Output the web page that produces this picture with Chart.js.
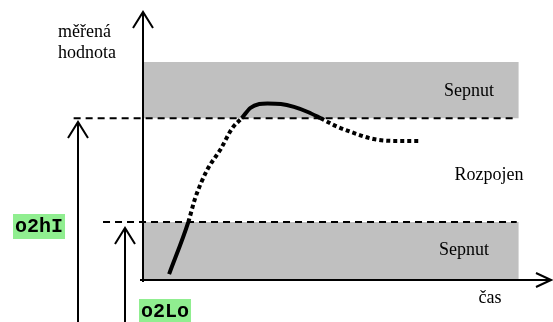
<!DOCTYPE html>
<html>
<head>
<meta charset="utf-8">
<script src="https://cdn.jsdelivr.net/npm/chart.js@4"></script>
<style>
  html, body { margin: 0; padding: 0; background: #fff; }
  #wrap { width: 553px; height: 322px; position: relative; }
</style>
</head>
<body>
<div id="wrap"><canvas id="chart"></canvas></div>
<script>
// hodnoty (čas i měřená hodnota v jednotkách 0..100)
const thresholdNames = ['o2hI', 'o2Lo'];
const thresholdValues = [60.4, 21.6];
const thresholdLineStart = [-17, -9.8];
const thresholdLineEnd = 91.6;

const bandNames = ['Sepnut', 'Rozpojen', 'Sepnut'];
const upperBandTop = 81.3;
const bandEnd = 92.1;

const curveTime  = [6.4, 11.1, 12.8, 15.7, 18.9, 21.9, 24.2, 26.3, 28.5, 30.5, 33.8, 37.0, 40.4, 43.5, 47.2, 51.6, 56.5, 62.0, 68.1];
const curveValue = [2.2, 21.6, 30.6, 41.0, 48.5, 56.7, 60.4, 64.2, 65.7, 65.9, 65.7, 64.6, 62.7, 60.4, 57.5, 54.9, 52.6, 51.9, 51.9];

const axisTitles = ['měřená', 'hodnota', 'čas'];

const hi = thresholdValues[0], lo = thresholdValues[1];
const pts = (xs, ys) => xs.map((t, i) => ({x: t, y: ys[i]}));

// plná čára tam, kde je výstup sepnut
const isSwitched = ctx => {
  const a = ctx.p0.parsed.y, b = ctx.p1.parsed.y;
  return (a >= hi - 0.001 && b >= hi - 0.001) || (a <= lo + 0.001 && b <= lo + 0.001);
};

const schemePlugin = {
  id: 'scheme',
  afterDatasetsDraw(chart) {
    const {ctx, scales: {x, y}} = chart;
    const px = v => Math.round(x.getPixelForValue(v));
    const py = v => Math.round(y.getPixelForValue(v));
    const seg = (x1, y1, x2, y2) => { ctx.beginPath(); ctx.moveTo(x1, y1); ctx.lineTo(x2, y2); ctx.stroke(); };
    const headUp = (tx, ty) => {
      ctx.beginPath(); ctx.moveTo(tx - 10, ty + 16); ctx.lineTo(tx, ty); ctx.lineTo(tx + 10, ty + 16); ctx.stroke();
    };

    ctx.save();
    ctx.strokeStyle = '#000';
    ctx.lineWidth = 2;
    ctx.lineJoin = 'miter';

    // osy
    seg(px(0), py(-0.7), px(0), py(100));
    headUp(px(0), py(100));
    seg(px(-0.7), py(0), px(100), py(0));
    ctx.beginPath();
    ctx.moveTo(px(100) - 15, py(0) - 7); ctx.lineTo(px(100), py(0)); ctx.lineTo(px(100) - 15, py(0) + 7);
    ctx.stroke();

    // šipky k mezím
    const arrowX = [-16, -4.4];
    const tipGap = [4, 6];
    thresholdValues.forEach((v, i) => {
      const ax = px(arrowX[i]);
      const tip = py(v) + tipGap[i];
      seg(ax, chart.height, ax, tip);
      headUp(ax, tip);
    });

    // popisky mezí
    ctx.font = 'bold 20px "Liberation Mono", "Courier New", monospace';
    ctx.textBaseline = 'alphabetic';
    ctx.textAlign = 'left';
    const boxLeft = [13, 139];
    const boxTop = [214, 299];
    thresholdNames.forEach((name, i) => {
      const w = ctx.measureText(name).width + 4;
      ctx.fillStyle = '#90ee90';
      ctx.fillRect(boxLeft[i], boxTop[i], w, 25);
      ctx.fillStyle = '#000';
      ctx.fillText(name, boxLeft[i] + 2, boxTop[i] + 18);
    });

    // texty pásem a os
    ctx.font = '18px "Liberation Serif", "Times New Roman", serif';
    ctx.fillStyle = '#000';
    ctx.textAlign = 'center';
    const bandLabelT = [80.0, 84.9, 78.7];
    const bandLabelV = [68.7, 37.5, 9.3];
    bandNames.forEach((name, i) => ctx.fillText(name, px(bandLabelT[i]), py(bandLabelV[i])));
    ctx.fillText(axisTitles[2], px(85), py(-8.6));
    ctx.textAlign = 'left';
    ctx.fillText(axisTitles[0], px(-20.8), py(90.7));
    ctx.fillText(axisTitles[1], px(-20.8), py(82.8));

    ctx.restore();
  }
};

new Chart(document.getElementById('chart'), {
  type: 'line',
  data: {
    datasets: [
      {
        label: 'měřená hodnota',
        data: pts(curveTime, curveValue),
        borderColor: '#000',
        borderWidth: 4,
        pointRadius: 0,
        fill: false,
        cubicInterpolationMode: 'monotone',
        borderCapStyle: 'butt',
        segment: {
          borderDash: ctx => isSwitched(ctx) ? [] : [4, 3]
        },
        order: 1
      },
      {
        label: thresholdNames[0],
        data: pts([thresholdLineStart[0], thresholdLineEnd], [hi, hi]),
        borderColor: '#000',
        borderWidth: 2,
        borderDash: [7, 5],
        pointRadius: 0,
        fill: false,
        order: 2
      },
      {
        label: thresholdNames[1],
        data: pts([thresholdLineStart[1], thresholdLineEnd], [lo, lo]),
        borderColor: '#000',
        borderWidth: 2,
        borderDash: [7, 5],
        pointRadius: 0,
        fill: false,
        order: 2
      },
      {
        label: bandNames[0],
        data: pts([0, bandEnd], [upperBandTop, upperBandTop]),
        borderWidth: 0,
        pointRadius: 0,
        backgroundColor: '#c0c0c0',
        fill: {value: hi},
        order: 3
      },
      {
        label: bandNames[2],
        data: pts([0, bandEnd], [lo, lo]),
        borderWidth: 0,
        pointRadius: 0,
        backgroundColor: '#c0c0c0',
        fill: {value: 0},
        order: 3
      }
    ]
  },
  options: {
    responsive: true,
    maintainAspectRatio: false,
    animation: false,
    layout: { padding: 0 },
    plugins: {
      legend: { display: false },
      tooltip: { enabled: false }
    },
    scales: {
      x: { type: 'linear', display: false, min: -35.05, max: 100.49 },
      y: { type: 'linear', display: false, min: -15.67, max: 104.48 }
    }
  },
  plugins: [schemePlugin]
});
</script>
</body>
</html>
